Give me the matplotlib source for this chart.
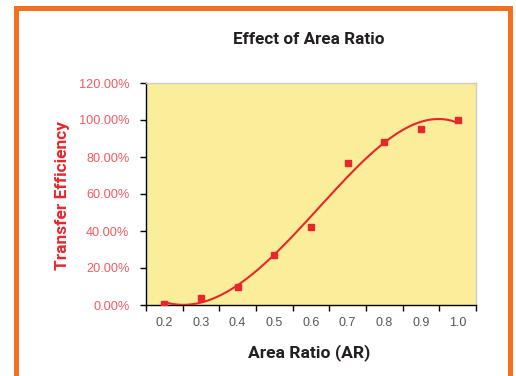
import numpy as np
import matplotlib
matplotlib.use("Agg")
import matplotlib.pyplot as plt
from matplotlib.patches import Rectangle

categories = ["0.2", "0.3", "0.4", "0.5", "0.6", "0.7", "0.8", "0.9", "1.0"]
efficiency = [0.5, 4, 10, 27, 42, 77, 88, 95, 100]
y_ticks = [0, 20, 40, 60, 80, 100, 120]
y_tick_labels = ["0.00%", "20.00%", "40.00%", "60.00%", "80.00%", "100.00%", "120.00%"]
trend_order = 4

narrow = ["Roboto", "DejaVu Sans"]
plt.rcParams["font.family"] = ["Liberation Sans", "DejaVu Sans"]

fig = plt.figure(figsize=(5.16, 3.76), dpi=100)
fig.patch.set_facecolor("white")

# orange frame (open at bottom)
orange = "#f37021"
for (x0, y0, w, h) in [(14/516, 0, 5/516, 1 - 6/376), (14/516, 1 - 11/376, 499/516, 5/376), (508/516, 0, 5/516, 1 - 6/376)]:
    fig.add_artist(Rectangle((x0, y0), w, h, transform=fig.transFigure, color=orange, lw=0, zorder=0))

ax = fig.add_axes([146/516, 1 - 305/376, 330/516, 222/376])
ax.set_facecolor("#fbee9b")

x = np.arange(1, len(categories) + 1)
y = np.array(efficiency, dtype=float)

# polynomial trendline (Excel-style, order 4) fitted to the data
coef = np.polyfit(x, y, trend_order)
xs = np.linspace(1, len(categories), 300)
ax.plot(xs, np.polyval(coef, xs), color="#e8262b", lw=1.5, zorder=3)
ax.plot(x, y, linestyle="none", marker="s", markersize=4.3, color="#e8262b", zorder=4)

ax.set_xlim(0.5, len(categories) + 0.5)
ax.set_ylim(0, 120)
ax.set_xticks(np.arange(0.5, len(categories) + 1, 1.0))
ax.set_xticklabels([])
ax.set_xticks(x, minor=True)
ax.set_xticklabels(categories, minor=True)
ax.tick_params(axis="x", which="major", direction="out", length=4, width=1, color="black")
ax.tick_params(axis="x", which="minor", length=0, pad=9, labelsize=9, labelcolor="#555555")
ax.set_yticks(y_ticks)
ax.set_yticklabels(y_tick_labels)
ax.tick_params(axis="y", direction="out", length=4, width=1, color="black", pad=8, labelsize=9.2, labelcolor="#ef5a60")

for side in ["top", "right"]:
    ax.spines[side].set_color("#cccccc")
    ax.spines[side].set_linewidth(1)
for side in ["left", "bottom"]:
    ax.spines[side].set_color("black")
    ax.spines[side].set_linewidth(1)

fig.text(309/516, 1 - 40/376, "Effect of Area Ratio", ha="center", va="center", fontsize=12.3, fontweight="bold", color="#231f20", family=narrow)
fig.text(309/516, 1 - 353/376, "Area Ratio (AR)", ha="center", va="center", fontsize=12.6, fontweight="bold", color="#231f20", family=narrow)
fig.text(63/516, 1 - 195/376, "Transfer Efficiency", ha="center", va="center", rotation=90, fontsize=12.5, fontweight="bold", color="#e8262b", family=narrow)

fig.savefig("out.png", dpi=100)
